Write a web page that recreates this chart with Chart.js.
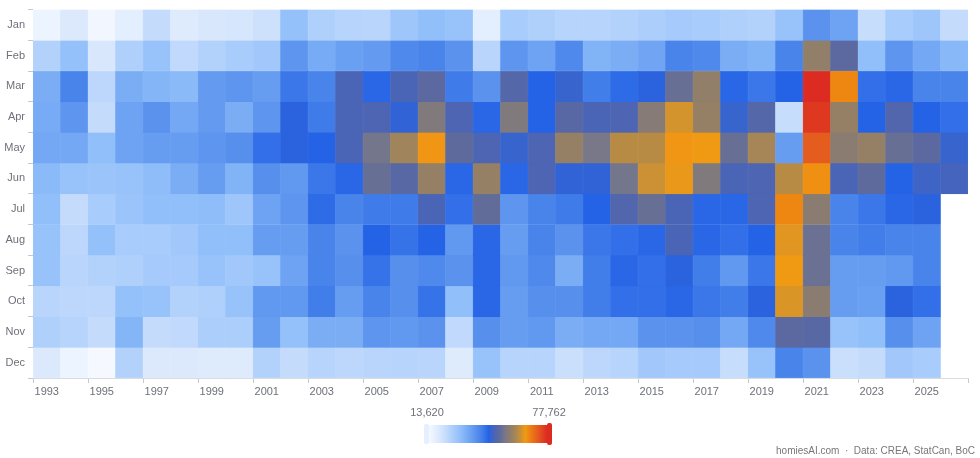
<!DOCTYPE html>
<html>
<head>
<meta charset="utf-8">
<script src="https://cdn.jsdelivr.net/npm/chart.js@4/dist/chart.umd.min.js"></script>
<style>
  html, body { margin: 0; padding: 0; background: #fff; }
  #wrap { width: 980px; height: 458px; position: relative; }
</style>
</head>
<body>
<div id="wrap"><canvas id="heatChart"></canvas></div>
<script>
// categories
const years = [];
for (let y = 1993; y <= 2026; y++) years.push(String(y));
const months = ["Jan", "Feb", "Mar", "Apr", "May", "Jun", "Jul", "Aug", "Sep", "Oct", "Nov", "Dec"];

// monthly home sales, 1993 -> 2026 (null = no data yet)
const jan = [15500, 19000, 14500, 17500, 23000, 18500, 19500, 20000, 21500, 30000,
             26000, 25000, 24500, 28500, 30500, 29500, 17500, 27000, 26000, 25000,
             25000, 25500, 26500, 27500, 27000, 26000, 25500, 29500, 39000, 36000,
             22500, 27000, 28500, 23000];
const feb = [25500, 30000, 19500, 26000, 29500, 23500, 25500, 27000, 28000, 38500,
             34500, 36500, 37500, 40500, 41500, 39000, 24500, 38500, 36000, 40500,
             33000, 34000, 35500, 41500, 40500, 34000, 33000, 41500, 58000, 51500,
             30500, 38500, 35000, 32000];
const mar = [34000, 41500, 24000, 34000, 32500, 31500, 37500, 38500, 37000, 43500,
             41500, 49000, 45500, 49000, 51500, 43000, 39000, 50500, 46000, 47500,
             42500, 45000, 46500, 53000, 58000, 45500, 43500, 46000, 77762, 68000,
             44500, 45500, 41500, 41500];
const apr = [34500, 38500, 23000, 36000, 39000, 35000, 37500, 34000, 38500, 46500,
             43000, 49000, 49500, 47000, 56000, 49500, 45500, 56000, 46000, 51000,
             49000, 49500, 56500, 64000, 58500, 47500, 50500, 22500, 76500, 58500,
             46000, 50000, 46000, 44500];
const may = [35000, 35000, 30500, 36000, 37000, 37000, 38500, 39500, 44500, 46500,
             46000, 49000, 54500, 60000, 66500, 52000, 49500, 47500, 49500, 58500,
             55000, 62000, 62000, 66500, 66000, 53000, 60500, 37000, 72500, 57000,
             58500, 53000, 51500, 47500];
const jun = [31500, 29500, 29000, 29500, 31000, 34000, 37000, 33000, 39500, 38000,
             43500, 45500, 53000, 51000, 58500, 45500, 58500, 45500, 49500, 47000,
             47000, 54500, 63500, 65500, 56000, 49000, 49500, 62000, 67000, 49000,
             52000, 46000, 48000, 48500];
const jul = [30500, 23000, 27000, 29000, 30500, 30500, 31000, 28500, 36000, 38500,
             45000, 41500, 43000, 43000, 49000, 44500, 52500, 38500, 41500, 43000,
             46000, 50000, 53000, 49000, 45500, 45500, 49500, 68000, 57000, 41500,
             43500, 45500, 46500, null];
const aug = [29500, 24000, 30000, 27000, 27000, 28000, 30500, 30500, 37000, 37000,
             41500, 39000, 46000, 44000, 46000, 38000, 45500, 37000, 41500, 39000,
             43500, 44500, 45500, 49000, 45500, 44500, 46000, 65000, 53500, 41500,
             42500, 41500, 41500, null];
const sep = [29500, 24500, 25500, 26000, 27500, 27500, 29500, 28000, 29500, 36000,
             41500, 39500, 44000, 39500, 40500, 39000, 45500, 38000, 40500, 34000,
             42500, 45500, 44500, 46500, 42500, 38000, 43500, 66000, 53500, 37000,
             37000, 38000, 41500, null];
const oct = [24500, 24000, 24000, 30000, 29500, 25500, 26000, 29500, 38000, 38000,
             42500, 37000, 41500, 39500, 44000, 30500, 45500, 37000, 39500, 39500,
             42500, 44500, 44500, 45500, 43500, 42500, 46500, 64500, 57000, 37000,
             36500, 46500, 44500, null];
const nov = [26000, 25000, 23000, 32500, 23000, 23500, 26500, 26500, 37000, 30000,
             34000, 34000, 38500, 38000, 39000, 23500, 39500, 37000, 38000, 34000,
             35000, 35000, 39000, 39000, 39500, 35000, 40500, 51500, 51000, 29500,
             30500, 39500, 36000, null];
const dec = [19000, 15500, 13620, 25500, 19000, 19000, 18500, 18500, 25500, 23000,
             25000, 24000, 24500, 25000, 24500, 18500, 29500, 25000, 25000, 22000,
             24000, 25000, 28000, 27500, 27500, 22500, 29500, 41500, 39000, 22000,
             23000, 28000, 27000, null];

const monthRows = [jan, feb, mar, apr, may, jun, jul, aug, sep, oct, nov, dec];

// visual map (value -> colour)
const allValues = monthRows.flat().filter(v => v != null);
const vMin = Math.min(...allValues);
const vMax = Math.max(...allValues);

const colorStops = [
    [13620, "#f5f9ff"], [15000, "#eef5ff"], [19000, "#dce9fd"], [23000, "#c4dbfc"],
    [27000, "#a8ccfb"], [31000, "#8ebdf9"], [35000, "#74a8f4"], [39000, "#5a92ee"],
    [43000, "#3f7be9"], [46000, "#2563e6"], [49000, "#4a64b6"], [52000, "#5e6a9c"],
    [55000, "#787888"], [57000, "#8a7c70"], [60000, "#a0845c"], [63000, "#c48f3a"],
    [66000, "#f09a14"], [68000, "#ee8612"], [72000, "#e6621e"], [77762, "#dc2c22"]
];

function hexToRgb(h) {
    const n = parseInt(h.slice(1), 16);
    return [(n >> 16) & 255, (n >> 8) & 255, n & 255];
}

function colorFor(v) {
    if (v <= colorStops[0][0]) return colorStops[0][1];
    for (let i = 1; i < colorStops.length; i++) {
        const [v1, c1] = colorStops[i];
        if (v <= v1) {
            const [v0, c0] = colorStops[i - 1];
            const t = (v - v0) / (v1 - v0);
            const a = hexToRgb(c0), b = hexToRgb(c1);
            const rgb = a.map((x, k) => Math.round(x + (b[k] - x) * t));
            return `rgb(${rgb[0]},${rgb[1]},${rgb[2]})`;
        }
    }
    return colorStops[colorStops.length - 1][1];
}

const fmt = n => n.toLocaleString("en-US");
const AXIS_TEXT = "#6e7079";
const FONT = "'Liberation Sans', Arial, sans-serif";

// one floating-bar dataset per month row: [m, m + 1] on the reversed y scale
const datasets = monthRows.map((row, m) => ({
    label: months[m],
    data: row.map(v => (v == null ? null : [m, m + 1])),
    backgroundColor: row.map(v => (v == null ? "transparent" : colorFor(v))),
    borderColor: row.map(v => (v == null ? "transparent" : colorFor(v))),
    borderWidth: 0.5,
    borderSkipped: false,
    barPercentage: 1,
    categoryPercentage: 1,
    grouped: false
}));

// legend bar + footer, drawn under the plot
const visualMapPlugin = {
    id: "visualMap",
    afterDraw(chart) {
        const ctx = chart.ctx;
        const x0 = 429, x1 = 547, y0 = 425, h = 18;
        ctx.save();

        const grad = ctx.createLinearGradient(x0, 0, x1, 0);
        colorStops.forEach(([v, c]) => grad.addColorStop((v - vMin) / (vMax - vMin), c));
        ctx.fillStyle = grad;
        ctx.fillRect(x0, y0, x1 - x0, h);

        // handles
        ctx.fillStyle = "#e6effd";
        ctx.beginPath();
        ctx.roundRect(424, y0 - 1, 5, h + 2, 2);
        ctx.fill();
        ctx.fillStyle = "#dc2c22";
        ctx.beginPath();
        ctx.roundRect(547, y0 - 2, 5, h + 4, 2);
        ctx.fill();

        ctx.fillStyle = AXIS_TEXT;
        ctx.font = `11px ${FONT}`;
        ctx.textAlign = "center";
        ctx.textBaseline = "middle";
        ctx.fillText(fmt(vMin), 427, 413);
        ctx.fillText(fmt(vMax), 549, 413);

        ctx.fillStyle = "#777";
        ctx.font = `10px ${FONT}`;
        ctx.textAlign = "right";
        ctx.fillText("homiesAI.com  ·  Data: CREA, StatCan, BoC", 975, 451);
        ctx.restore();
    }
};

new Chart(document.getElementById("heatChart"), {
    type: "bar",
    data: { labels: years, datasets },
    options: {
        responsive: true,
        maintainAspectRatio: false,
        animation: false,
        layout: { padding: { top: 8, right: 12, bottom: 60, left: 0 } },
        plugins: {
            legend: { display: false },
            tooltip: { enabled: false }
        },
        scales: {
            x: {
                type: "category",
                offset: true,
                afterFit: s => { s.height = 20; },
                border: { display: true, color: "#d7dbe2" },
                grid: {
                    offset: true,
                    drawOnChartArea: false,
                    tickLength: 5,
                    color: c => (c.index === undefined || c.index % 2 === 0 ? "#c4c9d1" : "transparent")
                },
                ticks: {
                    autoSkip: false,
                    maxRotation: 0,
                    padding: 2,
                    color: AXIS_TEXT,
                    font: { size: 11, family: FONT },
                    callback: (val, i) => (i % 2 === 0 ? years[i] : "")
                }
            },
            y: {
                type: "linear",
                min: 0,
                max: 12,
                reverse: true,
                afterFit: s => { s.width = 33; },
                afterBuildTicks: s => { s.ticks = months.map((_, i) => ({ value: i + 0.5 })); },
                border: { display: false },
                grid: {
                    offset: true,
                    drawOnChartArea: false,
                    tickLength: 5,
                    color: "#c4c9d1"
                },
                ticks: {
                    padding: 3,
                    color: AXIS_TEXT,
                    font: { size: 11, family: FONT },
                    callback: v => months[Math.floor(v)]
                }
            }
        }
    },
    plugins: [visualMapPlugin]
});
</script>
</body>
</html>
